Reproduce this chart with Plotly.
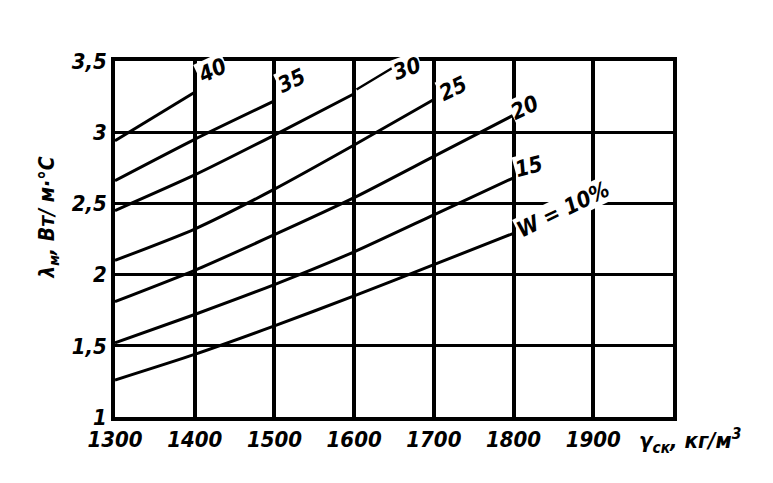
import plotly.graph_objects as go

# density, kg/m3
density = [1300, 1400, 1500, 1600, 1700, 1800]

# thermal conductivity for each moisture W, %
lam_40 = [2.94, 3.28]
lam_35 = [2.66, 2.95, 3.22]
lam_30 = [2.45, 2.70, 2.98, 3.27]
lam_25 = [2.10, 2.32, 2.60, 2.91, 3.23]
lam_20 = [1.81, 2.03, 2.28, 2.54, 2.83, 3.12]
lam_15 = [1.52, 1.72, 1.93, 2.16, 2.42, 2.68]
lam_10 = [1.26, 1.44, 1.64, 1.85, 2.07, 2.29]

series = [lam_40, lam_35, lam_30, lam_25, lam_20, lam_15, lam_10]

x_ticks = [1300, 1400, 1500, 1600, 1700, 1800, 1900, 2000]
x_labels = ["1300", "1400", "1500", "1600", "1700", "1800", "1900", " "]
y_ticks = [1, 1.5, 2, 2.5, 3, 3.5]
y_labels = ["1", "1,5", "2", "2,5", "3", "3,5"]

# label text, x, y, angle
curve_labels = [
    ("40", 1422, 3.43, -25),
    ("35", 1522, 3.36, -25),
    ("25", 1724, 3.31, -25),
    ("20", 1814, 3.17, -25),
    ("15", 1819, 2.76, -15),
    ("W = 10%", 1862, 2.46, -26),
]

FONT = "DejaVu Sans Condensed, Liberation Sans Narrow, sans-serif"
lab_font = dict(family=FONT, size=22, color="black", style="italic", weight="bold")

fig = go.Figure()
for ys in series:
    fig.add_trace(go.Scatter(
        x=density[:len(ys)], y=ys, mode="lines",
        line=dict(color="black", width=3, shape="spline", smoothing=0.6),
        showlegend=False, hoverinfo="skip"))

for txt, xx, yy, ang in curve_labels:
    fig.add_annotation(x=xx, y=yy, text=txt, showarrow=False, textangle=ang,
                       bgcolor="white", borderpad=0, font=lab_font)

# "30" with its leader line back to the curve
fig.add_annotation(x=1603, y=3.30, ax=40, ay=-24, text=" ", showarrow=True,
                   arrowhead=0, arrowwidth=2.5, arrowcolor="black", standoff=0)
fig.add_annotation(x=1666, yref="paper", y=1.03, text="30", showarrow=False,
                   textangle=-20, bgcolor="white", borderpad=0, font=lab_font)

fig.add_annotation(xref="paper", yref="paper", x=0.935, y=-0.068,
                   xanchor="left", yanchor="middle",
                   text="γ<sub>ск</sub>, кг/м<sup>3</sup>", showarrow=False,
                   font=dict(family=FONT, size=22, color="black",
                             style="italic", weight="bold"))
fig.add_annotation(xref="paper", yref="paper", x=-0.12, y=0.56, textangle=-90,
                   xanchor="center", yanchor="middle",
                   text="λ<sub>м</sub>, Вт/ м·°С", showarrow=False,
                   font=dict(family=FONT, size=21, color="black",
                             style="italic", weight="bold"))

fig.update_xaxes(range=[1300, 2000], tickvals=x_ticks, ticktext=x_labels,
                 showgrid=True, gridcolor="black", gridwidth=3.5,
                 showline=True, linecolor="black", linewidth=3.5, mirror=True,
                 zeroline=False, ticks="", tickfont=lab_font)
fig.update_yaxes(range=[1, 3.5], tickvals=y_ticks, ticktext=y_labels,
                 showgrid=True, gridcolor="black", gridwidth=2.5,
                 showline=True, linecolor="black", linewidth=3.5, mirror=True,
                 zeroline=False, ticks="", tickfont=lab_font)

fig.update_layout(width=773, height=483,
                  margin=dict(l=107, r=108, t=53, b=74),
                  plot_bgcolor="white", paper_bgcolor="white")

fig.write_html("out.html")
